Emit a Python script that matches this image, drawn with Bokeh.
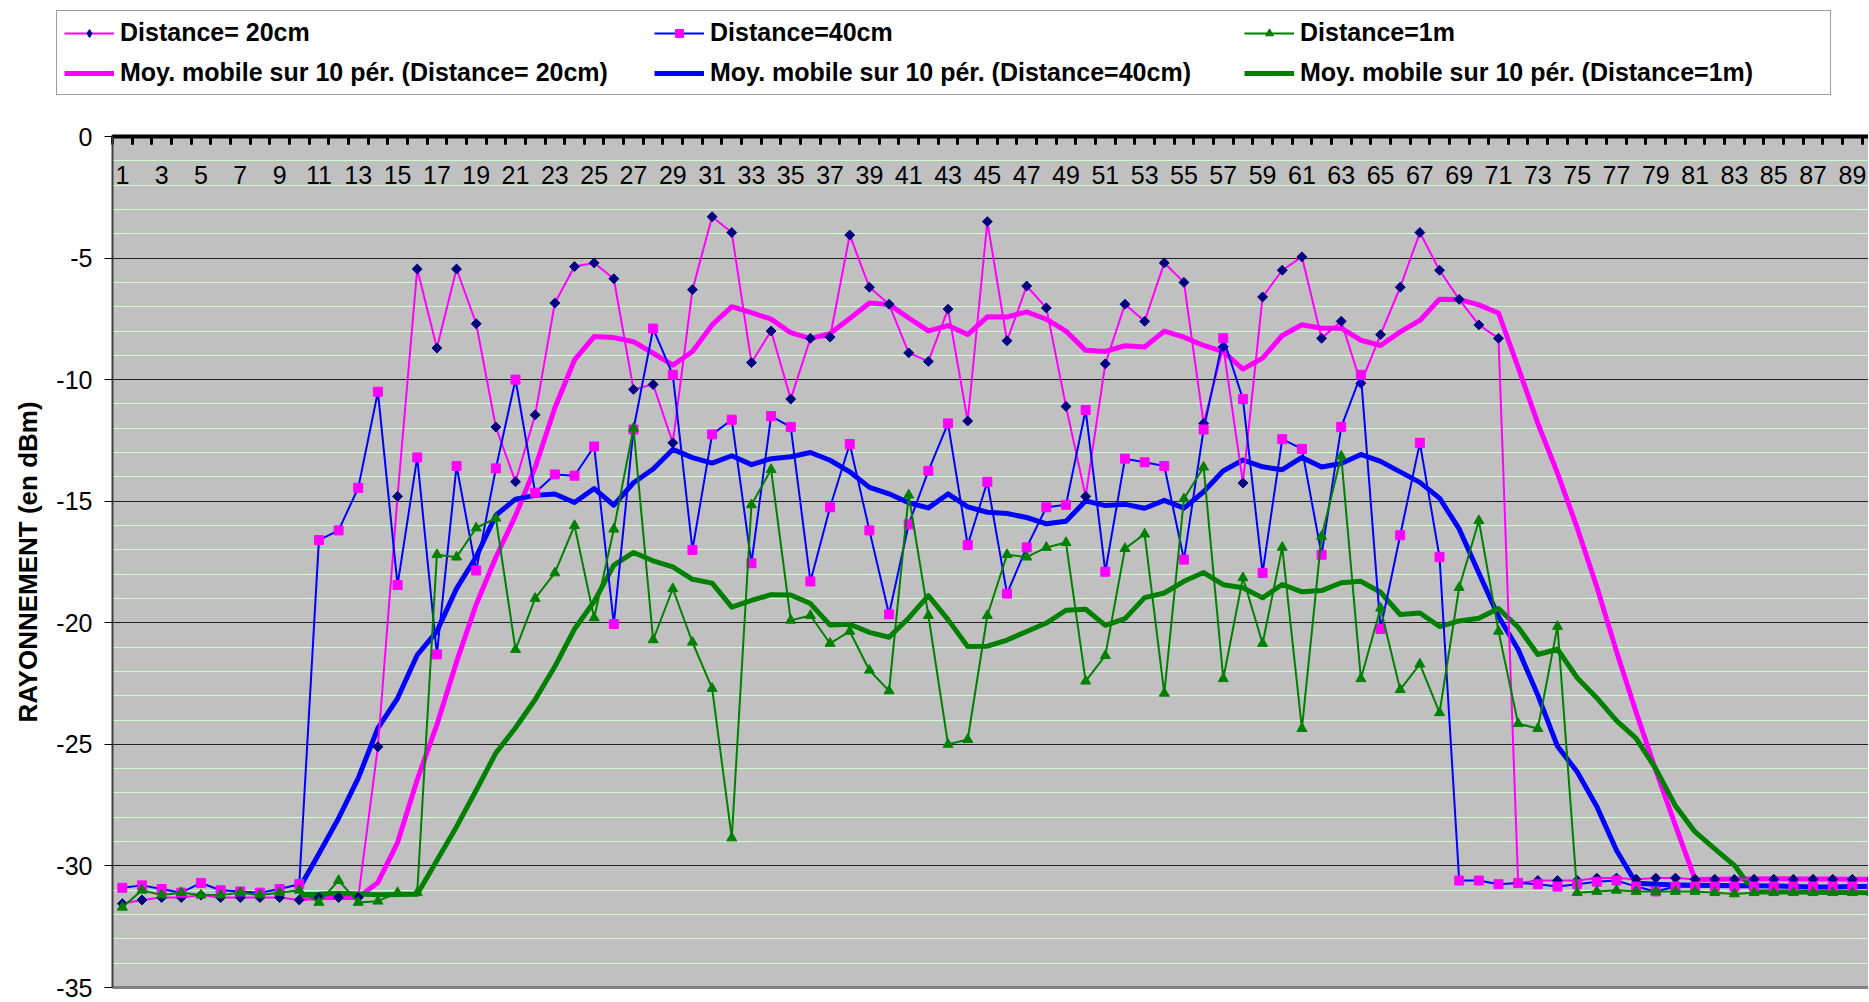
import numpy as np
import pandas as pd
from bokeh.plotting import figure
from bokeh.layouts import column
from bokeh.models import (Range1d, LinearAxis, FixedTicker, SingleIntervalTicker, Grid,
                          Legend, LegendItem, ColumnDataSource)
from bokeh.core.properties import value
from bokeh.embed import file_html
from bokeh.resources import INLINE

# ---------------- data ----------------
categories = list(range(1, 91))

dist_20cm = [
    -31.55, -31.4, -31.3, -31.3, -31.2, -31.3, -31.3, -31.3, -31.3, -31.4,
    -31.3, -31.3, -31.3, -25.1, -14.8, -5.45, -8.7, -5.45, -7.7, -11.95,
    -14.2, -11.45, -6.85, -5.35, -5.2, -5.85, -10.4, -10.2, -12.6, -6.3,
    -3.3, -3.95, -9.3, -8.0, -10.8, -8.3, -8.25, -4.05, -6.2, -6.9,
    -8.9, -9.25, -7.1, -11.7, -3.5, -8.4, -6.15, -7.05, -11.1, -14.8,
    -9.35, -6.9, -7.6, -5.2, -6.0, -11.8, -8.65, -14.25, -6.6, -5.5,
    -4.95, -8.3, -7.6, -10.15, -8.15, -6.2, -3.95, -5.5, -6.7, -7.75,
    -8.3, -30.7, -30.6, -30.6, -30.6, -30.5, -30.5, -30.55, -30.5, -30.5,
    -30.55, -30.55, -30.55, -30.55, -30.55, -30.55, -30.55, -30.55, -30.55, -30.55,
]

dist_40cm = [
    -30.9, -30.8, -30.95, -31.1, -30.7, -31.0, -31.05, -31.1, -30.95, -30.75,
    -16.6, -16.2, -14.45, -10.5, -18.45, -13.2, -21.3, -13.55, -17.85, -13.65,
    -10.0, -14.65, -13.9, -13.95, -12.75, -20.05, -12.05, -7.9, -9.8, -17.0,
    -12.25, -11.65, -17.55, -11.5, -11.95, -18.3, -15.25, -12.65, -16.2, -19.65,
    -15.95, -13.75, -11.8, -16.8, -14.2, -18.8, -16.9, -15.25, -15.15, -11.25,
    -17.9, -13.25, -13.4, -13.55, -17.4, -12.05, -8.3, -10.8, -17.95, -12.45,
    -12.85, -17.2, -11.95, -9.8, -20.25, -16.4, -12.6, -17.3, -30.6, -30.6,
    -30.75, -30.7, -30.75, -30.85, -30.75, -30.65, -30.6, -30.85, -31.05, -30.85,
    -30.85, -30.85, -30.85, -30.85, -30.85, -30.85, -30.85, -30.85, -30.85, -30.85,
]

dist_1m = [
    -31.7, -31.0, -31.2, -31.1, -31.2, -31.2, -31.1, -31.2, -31.1, -31.0,
    -31.5, -30.6, -31.5, -31.45, -31.1, -31.1, -17.2, -17.3, -16.1, -15.7,
    -21.1, -19.0, -17.95, -16.0, -19.8, -16.15, -12.0, -20.7, -18.6, -20.8,
    -22.7, -28.85, -15.15, -13.7, -19.9, -19.7, -20.85, -20.35, -21.95, -22.8,
    -14.75, -19.7, -25.0, -24.8, -19.7, -17.2, -17.3, -16.9, -16.7, -22.4,
    -21.35, -16.95, -16.35, -22.9, -14.9, -13.6, -22.3, -18.15, -20.85, -16.9,
    -24.35, -16.45, -13.15, -22.3, -19.4, -22.75, -21.7, -23.7, -18.55, -15.8,
    -20.35, -24.15, -24.35, -20.15, -31.1, -31.05, -31.0, -31.05, -31.05, -31.05,
    -31.05, -31.1, -31.15, -31.1, -31.1, -31.1, -31.1, -31.1, -31.1, -31.1,
]

series_labels = ["Distance= 20cm", "Distance=40cm", "Distance=1m"]
ma_labels = [
    "Moy. mobile sur 10 pér. (Distance= 20cm)",
    "Moy. mobile sur 10 pér. (Distance=40cm)",
    "Moy. mobile sur 10 pér. (Distance=1m)",
]
ma_period = 10

x_label_pos = [1, 3, 5, 7, 9, 11, 13, 15, 17, 19, 21, 23, 25, 27, 29, 31, 33, 35, 37, 39, 41, 43,
               45, 47, 49, 51, 53, 55, 57, 59, 61, 63, 65, 67, 69, 71, 73, 75, 77, 79, 81, 83, 85, 87, 89]
x_tick_labels = ["1", "3", "5", "7", "9", "11", "13", "15", "17", "19", "21", "23", "25", "27", "29",
                 "31", "33", "35", "37", "39", "41", "43", "45", "47", "49", "51", "53", "55", "57",
                 "59", "61", "63", "65", "67", "69", "71", "73", "75", "77", "79", "81", "83", "85",
                 "87", "89"]
y_ticks = [0, -5, -10, -15, -20, -25, -30, -35]
y_tick_labels = ["0", "-5", "-10", "-15", "-20", "-25", "-30", "-35"]
y_title = "RAYONNEMENT (en dBm)"

# ---------------- styles ----------------
FONT = "Liberation Sans"
MAGENTA = "#FF00FF"
NAVY = "#000080"
BLUE = "#0000FF"
GREEN = "#008000"
W = 1868
LEG_H = 100


def moving_avg(vals):
    s = pd.Series(vals).rolling(ma_period).mean()
    return categories[ma_period - 1:], list(s.iloc[ma_period - 1:])


def draw_series(fig, diamond_marker="square", diamond_angle=np.pi / 4, diamond_size=7):
    out = {}
    mx, my = moving_avg(dist_20cm)
    out["ma20"] = fig.line(mx, my, line_color=MAGENTA, line_width=5, line_join="round")
    mx, my = moving_avg(dist_40cm)
    out["ma40"] = fig.line(mx, my, line_color=BLUE, line_width=5, line_join="round")
    mx, my = moving_avg(dist_1m)
    out["ma1m"] = fig.line(mx, my, line_color=GREEN, line_width=5, line_join="round")
    out["l20"] = fig.line(categories, dist_20cm, line_color=MAGENTA, line_width=2, line_join="round")
    out["s20"] = fig.scatter(categories, dist_20cm, marker=diamond_marker, angle=diamond_angle,
                             size=diamond_size, fill_color=NAVY, line_color=NAVY)
    out["l40"] = fig.line(categories, dist_40cm, line_color=BLUE, line_width=2, line_join="round")
    out["s40"] = fig.scatter(categories, dist_40cm, marker="square", size=9,
                             fill_color=MAGENTA, line_color=MAGENTA)
    out["l1m"] = fig.line(categories, dist_1m, line_color=GREEN, line_width=2, line_join="round")
    out["s1m"] = fig.scatter(categories, dist_1m, marker="triangle", size=10,
                             fill_color=GREEN, line_color=GREEN)
    return out


# ---------------- main chart ----------------
p = figure(width=W, height=901, output_backend="svg", toolbar_location=None,
           x_range=Range1d(0.5, 89.82), y_range=Range1d(-35, 0),
           x_axis_location=None, y_axis_location=None,
           min_border_left=112, min_border_right=0, min_border_top=36, min_border_bottom=14,
           background_fill_color="#C0C0C0", border_fill_color="white",
           outline_line_color=None)
p.center = [c for c in p.center if not isinstance(c, Grid)]

ygrid = Grid(dimension=1, ticker=SingleIntervalTicker(interval=5, num_minor_ticks=5),
             grid_line_color="#202020", grid_line_width=1,
             minor_grid_line_color="#CCFFCC", minor_grid_line_width=1)
p.add_layout(ygrid)

yaxis = LinearAxis(ticker=FixedTicker(ticks=y_ticks),
                   major_label_overrides={t: l for t, l in zip(y_ticks, y_tick_labels)},
                   axis_label=y_title,
                   axis_label_text_font=FONT, axis_label_text_font_style="bold",
                   axis_label_text_font_size="26px", axis_label_standoff=10,
                   axis_label_text_color="black",
                   major_label_text_font=FONT, major_label_text_font_size="25px",
                   major_label_text_color="black", major_label_standoff=12,
                   major_tick_out=8, major_tick_in=0, major_tick_line_color="black",
                   minor_tick_line_color=None,
                   axis_line_color="#404040", axis_line_width=2)
p.add_layout(yaxis, "left")

boundaries = [c - 0.5 for c in categories]
top_axis = LinearAxis(ticker=FixedTicker(ticks=[], minor_ticks=boundaries),
                      major_tick_line_color=None, major_tick_out=0, major_tick_in=0,
                      major_label_standoff=0,
                      minor_tick_in=7, minor_tick_out=0, minor_tick_line_width=3,
                      minor_tick_line_color="black", minor_tick_line_cap="round",
                      axis_line_width=4, axis_line_color="black")
p.add_layout(top_axis, "above")

bottom_axis = LinearAxis(ticker=FixedTicker(ticks=[]), axis_line_color="#808080", axis_line_width=3,
                         major_tick_line_color=None, minor_tick_line_color=None,
                         major_tick_out=0, major_tick_in=0, major_label_standoff=0)
p.add_layout(bottom_axis, "below")

lab_src = ColumnDataSource(dict(x=x_label_pos, y=[y_ticks[0]] * len(x_label_pos), text=x_tick_labels))
p.text(x="x", y="y", text="text", source=lab_src, text_font=value(FONT), text_font_size="25px",
       text_align="center", text_baseline="middle", y_offset=38, text_color="black")

draw_series(p)

# ---------------- legend strip (same series, kept out of its view) ----------------
lf = figure(width=W, height=LEG_H, output_backend="svg", toolbar_location=None,
            x_range=Range1d(0, W), y_range=Range1d(1000, 1000 + LEG_H),
            x_axis_location=None, y_axis_location=None,
            min_border_left=0, min_border_right=0, min_border_top=0, min_border_bottom=0,
            background_fill_color="white", border_fill_color="white", outline_line_color=None)
lf.center = [c for c in lf.center if not isinstance(c, Grid)]
k = draw_series(lf, diamond_marker="diamond", diamond_angle=0.0, diamond_size=9)

items = [
    LegendItem(label=series_labels[0], renderers=[k["l20"], k["s20"]]),
    LegendItem(label=series_labels[1], renderers=[k["l40"], k["s40"]]),
    LegendItem(label=series_labels[2], renderers=[k["l1m"], k["s1m"]]),
    LegendItem(label=ma_labels[0], renderers=[k["ma20"]]),
    LegendItem(label=ma_labels[1], renderers=[k["ma40"]]),
    LegendItem(label=ma_labels[2], renderers=[k["ma1m"]]),
]
legend = Legend(items=items, location=(56, 5), orientation="horizontal", ncols=3,
                label_text_font=FONT, label_text_font_style="bold", label_text_font_size="25px",
                label_text_color="black", glyph_width=50, glyph_height=20, label_standoff=6,
                label_width=523, padding=7, spacing=11, margin=0,
                border_line_color="#404040", border_line_width=1.5,
                background_fill_color="white", background_fill_alpha=1.0)
lf.add_layout(legend)

for f in (lf, p):
    try:
        f.frame_align = False
    except Exception:
        pass

layout = column(lf, p, spacing=0)
open("out.html", "w").write(file_html(layout, INLINE))
